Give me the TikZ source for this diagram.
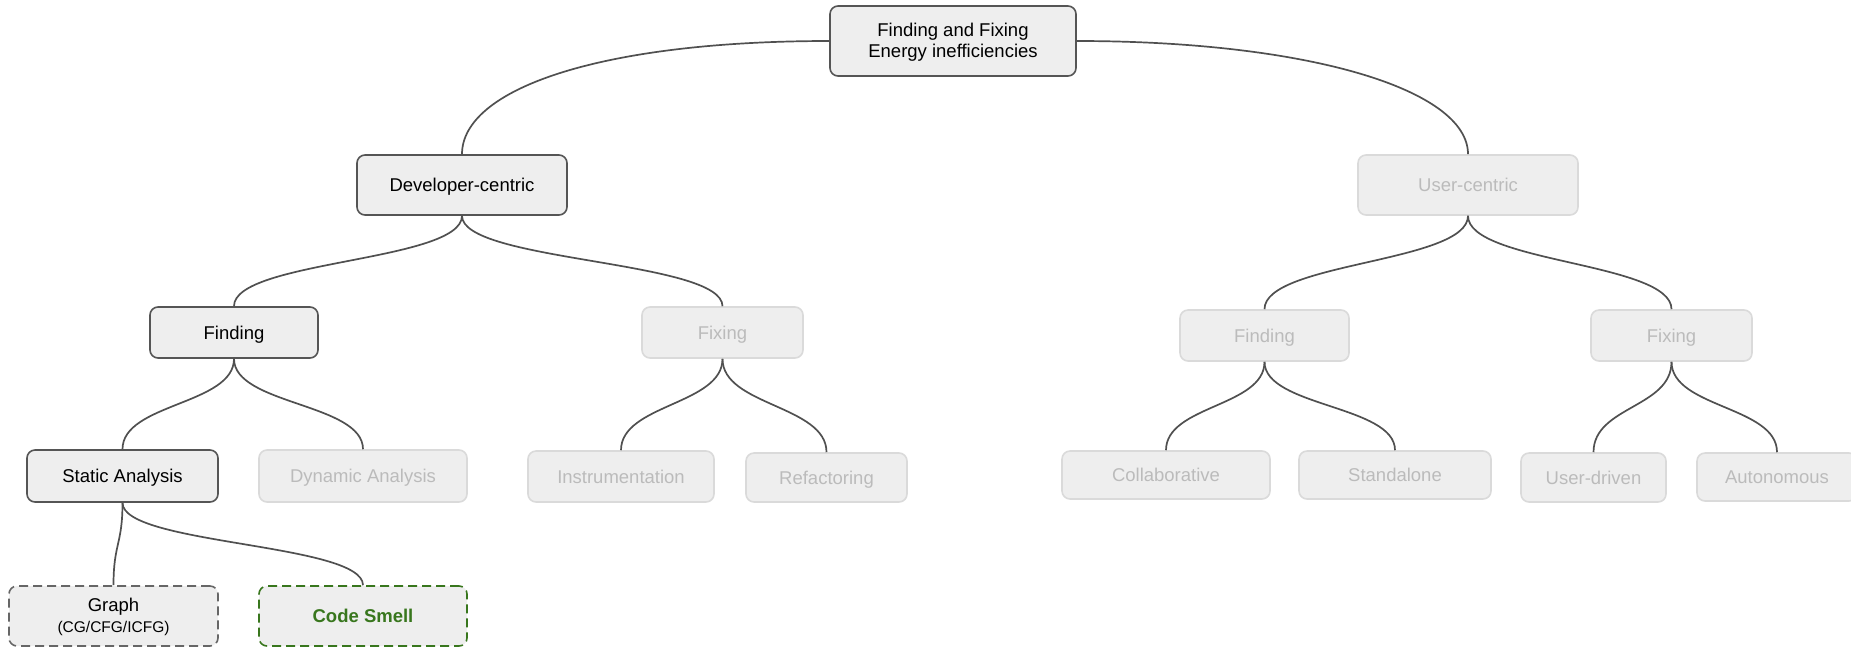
\documentclass[tikz,border=0pt]{standalone}
\usepackage{fontspec}
\setmainfont{Liberation Sans}
\usetikzlibrary{calc}
\definecolor{boxfill}{HTML}{EEEEEE}
\definecolor{darkline}{HTML}{555555}
\definecolor{fadeline}{HTML}{DADADA}
\definecolor{fadetext}{HTML}{BBBBBB}
\definecolor{connline}{HTML}{505050}
\definecolor{smellgreen}{HTML}{38761D}
\tikzset{
  base/.style={rectangle, rounded corners=8pt, fill=boxfill, line width=1.6pt, inner sep=0pt, align=center,
    font=\fontsize{18.5}{21}\selectfont},
  oneline/.style={text height=15pt, text depth=1.8pt},
  darkmulti/.style={base, draw=darkline, text=black},
  dark/.style={darkmulti, oneline},
  faded/.style={base, oneline, draw=fadeline, text=fadetext},
  dgraph/.style={base, draw=darkline!90, text=black, dash pattern=on 9pt off 5pt},
  dsmell/.style={base, oneline, draw=smellgreen, text=smellgreen, dash pattern=on 9pt off 5pt,
    font=\fontsize{18.5}{21}\selectfont\bfseries},
  conn/.style={draw=connline, line width=1.7pt},
  sz/.style 2 args={minimum width=#1pt, minimum height=#2pt}
}
\newcommand\scurve[3]{\draw[conn] (#1.south) .. controls ($(#1.south)+(0,-#3)$) and ($(#2.north)+(0,#3)$) .. (#2.north);}
\begin{document}
\begin{tikzpicture}[x=1pt,y=1pt]
\useasboundingbox (0,0) rectangle (1851,-649);
\node[darkmulti, sz={246}{70}] (root) at (953,-41) {\rule{0pt}{15pt}Finding and Fixing\\Energy inefficiencies};
\node[dark, sz={210}{60}] (dev) at (462,-185) {Developer-centric};
\node[faded, sz={220}{60}] (user) at (1468,-185) {User-centric};
\node[dark, sz={168}{51}] (findD) at (234,-332.5) {Finding};
\node[faded, sz={161}{51}] (fixD) at (722.5,-332.5) {Fixing};
\node[faded, sz={169}{51}] (findU) at (1264.5,-335.5) {Finding};
\node[faded, sz={161}{51}] (fixU) at (1671.5,-335.5) {Fixing};
\node[dark, sz={191}{52}] (static) at (122.5,-476) {Static Analysis};
\node[faded, sz={208}{52}] (dynamic) at (363,-476) {Dynamic Analysis};
\node[faded, sz={186}{51}] (instr) at (621,-476.5) {Instrumentation};
\node[faded, sz={161}{49}] (refac) at (826.5,-477.5) {Refactoring};
\node[faded, sz={208}{48}] (collab) at (1166,-475) {Collaborative};
\node[faded, sz={192}{48}] (stand) at (1395,-475) {Standalone};
\node[faded, sz={145}{49}] (udriven) at (1593.5,-477.5) {User-driven};
\node[faded, sz={160}{48}] (auto) at (1777,-477) {Autonomous};
\node[dgraph, sz={209}{60}] (graph) at (113.5,-616) {\rule{0pt}{16pt}Graph\\[0pt]{\fontsize{15.5}{17}\selectfont (CG/CFG/ICFG)}};
\node[dsmell, sz={208}{60}] (smell) at (363,-616) {Code Smell};
% root connectors
\draw[conn] (root.west) .. controls ($(root.west)+(-230,0)$) and ($(dev.north)+(0,65)$) .. (dev.north);
\draw[conn] (root.east) .. controls ($(root.east)+(230,0)$) and ($(user.north)+(0,65)$) .. (user.north);
% level connectors
\scurve{dev}{findD}{46}
\scurve{dev}{fixD}{46}
\scurve{user}{findU}{47}
\scurve{user}{fixU}{47}
\scurve{findD}{static}{46}
\scurve{findD}{dynamic}{46}
\scurve{fixD}{instr}{46}
\scurve{fixD}{refac}{47}
\scurve{findU}{collab}{45}
\scurve{findU}{stand}{45}
\scurve{fixU}{udriven}{46}
\scurve{fixU}{auto}{46}
\scurve{static}{graph}{42}
\scurve{static}{smell}{42}
\end{tikzpicture}
\end{document}
